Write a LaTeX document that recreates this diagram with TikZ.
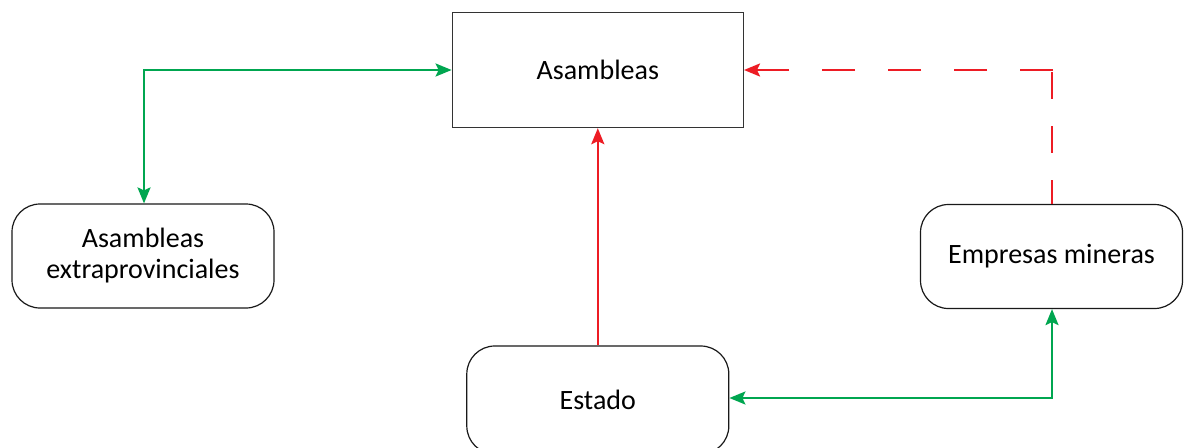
\documentclass[tikz,border=0pt]{standalone}
\usepackage{fontspec}
\setmainfont{Carlito}
\usetikzlibrary{arrows.meta}
\definecolor{grn}{RGB}{0,166,80}
\definecolor{rd}{RGB}{237,28,36}
\tikzset{
  sqbox/.style={draw=black!80, line width=1.4pt, minimum width=291pt, minimum height=115pt, inner sep=0pt, font=\fontsize{28}{31}\selectfont},
  rbox/.style={draw=black!90, line width=1.2pt, rounded corners=28pt, minimum width=262pt, minimum height=104pt, inner sep=0pt, align=center, font=\fontsize{28}{31}\selectfont},
  mytip/.tip={Stealth[length=16pt,width=13pt,inset=3pt]},
  glink/.style={draw=grn, line width=2.2pt, mytip-mytip},
  rlink/.style={draw=rd, line width=2.2pt, -mytip},
  rdashv/.style={draw=rd, line width=2.2pt, dash pattern=on 27pt off 27pt, dash phase=3pt},
  rdashh/.style={draw=rd, line width=2.2pt, -mytip, dash pattern=on 33pt off 33pt},
}
\begin{document}
\begin{tikzpicture}[x=1pt,y=-1pt]
\useasboundingbox (0,0) rectangle (1185,447);
\fill[white] (0,0) rectangle (1185,447);
\node[sqbox] (asam) at (597.8,70) {Asambleas};
\node[rbox] (extra) at (143,256) {Asambleas\\extraprovinciales};
\node[rbox] (emp) at (1051.5,256.5) {Empresas mineras};
\node[rbox, minimum height=108pt] (est) at (597.8,400) {Estado};
\coordinate (c1) at (144,70);
\coordinate (c2) at (1052,70);
\coordinate (c3) at (1052,398);
\draw[glink] (extra.north -| c1) -- (c1) -- (asam.west |- c1);
\draw[rlink] (est.north) -- (asam.south);
\draw[rdashv] (emp.north -| c2) -- ([yshift=1.1pt]c2);
\draw[rdashh] ([xshift=1.1pt]c2) -- (asam.east |- c2);
\draw[glink] (est.east |- c3) -- (c3) -- (emp.south -| c3);
\end{tikzpicture}
\end{document}
